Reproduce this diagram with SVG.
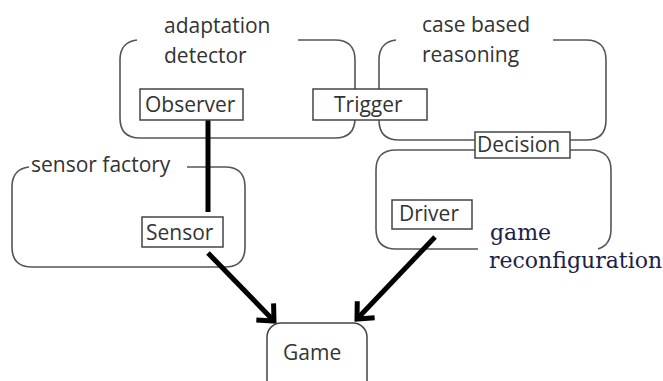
<svg xmlns="http://www.w3.org/2000/svg" width="663" height="381" viewBox="0 0 663 381">
<style>
.cont{fill:none;stroke:#555;stroke-width:1.6}
.box{fill:#fff;stroke:#444;stroke-width:1.5}
.t{font-family:"Open Sans","Noto Sans",sans-serif;font-size:21px;fill:#333}
.s{font-family:"DejaVu Serif","Liberation Serif",serif;font-size:22px;fill:#1b2146}
.thick{stroke:#000;stroke-width:5;fill:none}
</style>
<defs>
<marker id="chev" markerUnits="userSpaceOnUse" orient="auto" markerWidth="30" markerHeight="30" refX="0" refY="0" viewBox="-20 -15 25 30" overflow="visible">
<path d="M -13 -12 L 0 0 L -13 12" fill="none" stroke="#000" stroke-width="5"/>
</marker>
</defs>
<rect width="663" height="381" fill="#fff"/>
<g id="adaptation-detector">
<path class="cont" d="M 298 40 H 335 Q 355 40 355 60 V 118 Q 355 138 335 138 H 140 Q 120 138 120 118 V 60 Q 120 42 137 40"/>
<text class="t" x="164" y="33">adaptation</text>
<text class="t" x="164" y="63">detector</text>
</g>
<g id="case-based-reasoning">
<path class="cont" d="M 553 40 H 586 Q 606 40 606 60 V 120 Q 606 140 586 140 H 399 Q 379 140 379 120 V 60 Q 379 42 396 40"/>
<text class="t" x="422" y="32">case based</text>
<text class="t" x="422" y="62">reasoning</text>
</g>
<g id="game-reconfiguration">
<path class="cont" d="M 478 249 H 396 Q 376 249 376 229 V 170 Q 376 150 396 150 H 590 Q 611 150 611 170 V 229 Q 611 245 598 249"/>
<text class="s" x="490" y="240">game</text>
<text class="s" x="489" y="268">reconfiguration</text>
</g>
<g id="sensor-factory">
<path class="cont" d="M 187 167 H 225 Q 245 167 245 187 V 247 Q 245 267 225 267 H 32 Q 12 267 12 247 V 187 Q 12 169 29 167"/>
<text class="t" x="31" y="172">sensor factory</text>
</g>
<g id="connectors">
<line class="thick" x1="208" y1="120" x2="208" y2="212"/>
<line class="thick" x1="208" y1="253" x2="274" y2="321" marker-end="url(#chev)"/>
<line class="thick" x1="435" y1="237" x2="357" y2="319" marker-end="url(#chev)"/>
</g>
<g id="observer">
<rect class="box" x="140" y="89" width="103" height="31"/>
<text class="t" x="145" y="112">Observer</text>
</g>
<g id="trigger">
<rect class="box" x="313" y="89" width="114" height="31"/>
<text class="t" x="334" y="112">Trigger</text>
</g>
<g id="decision">
<rect class="box" x="475" y="132" width="95" height="26"/>
<text class="t" x="477" y="152">Decision</text>
</g>
<g id="sensor">
<rect class="box" x="142" y="217" width="81" height="30"/>
<text class="t" x="146" y="240">Sensor</text>
</g>
<g id="driver">
<rect class="box" x="392" y="200" width="80" height="29"/>
<text class="t" x="399" y="221">Driver</text>
</g>
<g id="game">
<rect class="box" x="267" y="323" width="100" height="72" rx="14"/>
<text class="t" x="283" y="360">Game</text>
</g>
</svg>
